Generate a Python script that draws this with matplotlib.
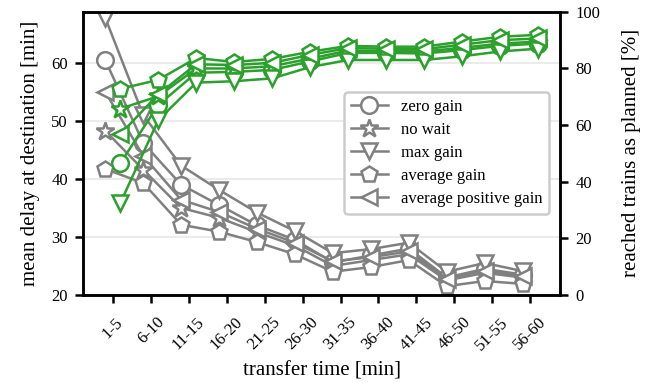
import numpy as np
import matplotlib
matplotlib.use("Agg")
import matplotlib.pyplot as plt

plt.rcParams["font.family"] = ["Liberation Serif", "DejaVu Serif"]

# transfer time bins
categories = ["1-5", "6-10", "11-15", "16-20", "21-25", "26-30",
              "31-35", "36-40", "41-45", "46-50", "51-55", "56-60"]

# mean delay at destination [min] (left axis)
delay_zero_gain = [60.5, 46.2, 39.0, 35.5, 32.0, 29.5, 25.6, 26.8, 28.0, 23.0, 24.5, 23.5]
delay_no_wait = [48.3, 41.6, 35.0, 33.3, 30.8, 28.5, 25.0, 26.0, 27.0, 22.5, 23.8, 23.0]
delay_max_gain = [67.8, 51.0, 42.3, 38.1, 34.2, 31.0, 27.2, 27.9, 29.0, 24.0, 25.5, 24.1]
delay_avg_gain = [41.7, 39.3, 32.1, 30.9, 29.1, 27.0, 24.0, 24.8, 26.0, 21.5, 22.4, 21.9]
delay_avg_pos_gain = [55.0, 44.0, 36.4, 34.3, 31.4, 29.0, 25.8, 26.5, 27.5, 22.8, 24.2, 23.2]

# reached trains as planned [%] (right axis)
reach_zero_gain = [46.6, 67.1, 78.5, 78.8, 79.5, 82.5, 85.5, 85.5, 85.3, 86.5, 88.0, 88.8]
reach_no_wait = [65.8, 70.2, 80.0, 80.0, 80.8, 83.5, 86.3, 86.2, 86.0, 87.3, 88.8, 89.5]
reach_max_gain = [32.5, 61.8, 75.0, 75.5, 76.5, 80.5, 83.0, 83.0, 83.0, 84.3, 86.0, 87.0]
reach_avg_gain = [72.8, 76.0, 83.7, 82.3, 83.4, 85.9, 88.0, 87.7, 87.7, 89.5, 91.2, 91.9]
reach_avg_pos_gain = [56.8, 70.9, 81.5, 81.2, 82.0, 84.8, 87.2, 87.0, 86.8, 88.4, 90.0, 90.6]

labels = ["zero gain", "no wait", "max gain", "average gain", "average positive gain"]
markers = ["o", "*", "v", "p", "<"]
delays = [delay_zero_gain, delay_no_wait, delay_max_gain, delay_avg_gain, delay_avg_pos_gain]
reaches = [reach_zero_gain, reach_no_wait, reach_max_gain, reach_avg_gain, reach_avg_pos_gain]

gray = "#808080"
green = "#2ca02c"
x = np.arange(len(categories))

fig = plt.figure(figsize=(6.45, 3.83), dpi=100)
ax = fig.add_axes([0.129, 0.23, 0.739, 0.739])
ax2 = ax.twinx()

handles = []
for d, m, lab in zip(delays, markers, labels):
    ms = 13.5 if m == "*" else 12
    h, = ax.plot(x - 0.2, d, color=gray, marker=m, markersize=ms, markerfacecolor="white",
                 markeredgewidth=1.8, linewidth=1.8, label=lab)
    handles.append(h)

for r, m in zip(reaches, markers):
    ms = 13.5 if m == "*" else 12
    ax2.plot(x + 0.2, r, color=green, marker=m, markersize=ms, markerfacecolor="white",
             markeredgewidth=1.8, linewidth=1.8)

ax.set_xlim(-0.78, 11.78)
ax.set_ylim(20, 68.8)
ax2.set_ylim(0, 100)
ax.set_yticks([20, 30, 40, 50, 60])
ax2.set_yticks([0, 20, 40, 60, 80, 100])
ax.set_xticks(x)
ax.set_xticklabels(categories, rotation=45, ha="center")

ax.grid(axis="y", color="#ebebeb", linewidth=1.5)
ax.set_axisbelow(True)

for a in (ax, ax2):
    for s in a.spines.values():
        s.set_linewidth(1.8)
    a.tick_params(width=1.8, length=6, labelsize=12, pad=5)
ax.tick_params(axis="x", pad=8)

ax.set_xlabel("transfer time [min]", fontsize=15, labelpad=6)
ax.set_ylabel("mean delay at destination [min]", fontsize=15, labelpad=8)
ax2.set_ylabel("reached trains as planned [%]", fontsize=15, labelpad=16)

leg = ax2.legend(handles=handles, loc="upper right", bbox_to_anchor=(0.995, 0.745),
                 fontsize=12, frameon=True, fancybox=True, edgecolor="#cccccc",
                 framealpha=1, borderpad=0.4, labelspacing=0.42, handlelength=2.2)
leg.get_frame().set_linewidth(1.8)

fig.savefig("out.png", dpi=100)
